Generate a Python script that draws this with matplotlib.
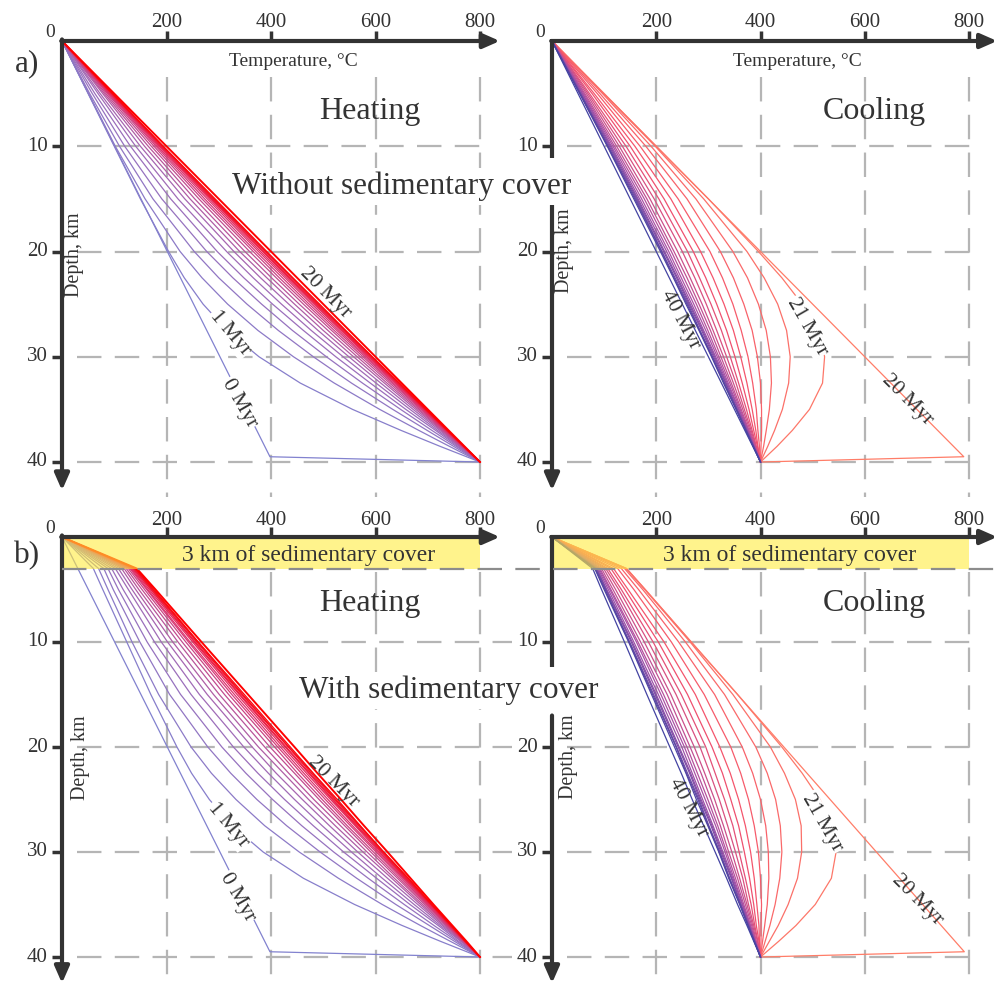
import matplotlib
matplotlib.use('Agg')
import matplotlib.pyplot as plt
from matplotlib.colors import LinearSegmentedColormap
from matplotlib.patches import Rectangle

# Geotherms: temperature (deg C) at fixed depths (km), one row per Myr
depth_a = [0, 5, 10, 15, 20, 22.5, 25, 27.5, 30, 32.5, 35, 37, 38.5, 40]
depth_b = [0, 3, 5, 10, 15, 20, 22.5, 25, 27.5, 30, 32.5, 35, 37, 38.5, 40]
depth_start = [0, 39.5, 40]
depth_start_b = [0, 3, 39.5, 40]

heat_a_0 = [0, 398, 800]
heat_a = [
    [0, 50, 100, 150, 204, 234, 270, 316, 377, 456, 556, 649, 723, 800],
    [0, 51, 102, 159, 226, 268, 317, 375, 443, 521, 608, 683, 741, 800],
    [0, 53, 110, 174, 253, 300, 354, 414, 481, 554, 633, 699, 749, 800],
    [0, 58, 120, 191, 277, 327, 382, 441, 506, 575, 648, 708, 754, 800],
    [0, 63, 131, 208, 297, 348, 403, 462, 524, 590, 658, 715, 757, 800],
    [0, 69, 141, 222, 315, 366, 420, 477, 538, 601, 666, 719, 760, 800],
    [0, 73, 150, 235, 329, 380, 434, 490, 549, 610, 672, 723, 761, 800],
    [0, 78, 158, 245, 340, 392, 445, 500, 558, 617, 677, 726, 763, 800],
    [0, 81, 165, 254, 350, 401, 454, 509, 565, 622, 681, 728, 764, 800],
    [0, 84, 171, 262, 359, 410, 462, 516, 571, 627, 684, 730, 765, 800],
    [0, 87, 176, 268, 366, 416, 468, 521, 576, 631, 687, 732, 766, 800],
    [0, 89, 180, 273, 371, 422, 473, 526, 580, 634, 689, 733, 767, 800],
    [0, 91, 183, 278, 376, 427, 478, 530, 583, 637, 691, 734, 767, 800],
    [0, 92, 186, 282, 380, 431, 482, 534, 586, 639, 692, 735, 768, 800],
    [0, 94, 188, 285, 384, 434, 485, 536, 588, 641, 694, 736, 768, 800],
    [0, 95, 190, 287, 386, 436, 487, 538, 590, 642, 695, 737, 768, 800],
    [0, 96, 192, 289, 389, 439, 489, 541, 592, 644, 696, 737, 769, 800],
    [0, 96, 193, 291, 390, 441, 491, 542, 593, 645, 696, 738, 769, 800],
    [0, 97, 194, 293, 392, 442, 493, 543, 594, 646, 697, 738, 769, 800],
    [0, 100, 200, 300, 400, 450, 500, 550, 600, 650, 700, 740, 770, 800],
]

cool_a_20 = [0, 790, 400]
cool_a = [
    [0, 100, 200, 300, 396, 441, 480, 509, 523, 519, 494, 461, 432, 400],
    [0, 99, 198, 291, 374, 407, 433, 450, 457, 454, 442, 427, 414, 400],
    [0, 97, 190, 276, 347, 375, 396, 411, 419, 421, 417, 411, 406, 400],
    [0, 92, 180, 259, 323, 348, 368, 384, 394, 400, 402, 402, 401, 400],
    [0, 87, 169, 242, 303, 327, 347, 363, 376, 385, 392, 395, 398, 400],
    [0, 81, 159, 228, 285, 309, 330, 348, 362, 374, 384, 391, 395, 400],
    [0, 77, 150, 215, 271, 295, 316, 335, 351, 365, 378, 387, 394, 400],
    [0, 72, 142, 205, 260, 283, 305, 325, 342, 358, 373, 384, 392, 400],
    [0, 69, 135, 196, 250, 274, 296, 316, 335, 353, 369, 382, 391, 400],
    [0, 66, 129, 188, 241, 265, 288, 309, 329, 348, 366, 380, 390, 400],
    [0, 63, 124, 182, 234, 259, 282, 304, 324, 344, 363, 378, 389, 400],
    [0, 61, 120, 177, 229, 253, 277, 299, 320, 341, 361, 377, 388, 400],
    [0, 59, 117, 172, 224, 248, 272, 295, 317, 338, 359, 376, 388, 400],
    [0, 58, 114, 168, 220, 244, 268, 291, 314, 336, 358, 375, 387, 400],
    [0, 56, 112, 165, 216, 241, 265, 289, 312, 334, 356, 374, 387, 400],
    [0, 55, 110, 163, 214, 239, 263, 287, 310, 333, 355, 373, 387, 400],
    [0, 54, 108, 161, 211, 236, 261, 284, 308, 331, 354, 373, 386, 400],
    [0, 54, 107, 159, 210, 234, 259, 283, 307, 330, 354, 372, 386, 400],
    [0, 53, 106, 157, 208, 233, 257, 282, 306, 329, 353, 372, 386, 400],
    [0, 50, 100, 150, 200, 225, 250, 275, 300, 325, 350, 370, 385, 400],
]

heat_b_0 = [0, 398, 800]
heat_b = [
    [0, 60, 78, 124, 170, 220, 248, 282, 326, 385, 462, 560, 651, 724, 800],
    [0, 70, 88, 134, 185, 247, 286, 333, 388, 454, 529, 613, 686, 743, 800],
    [0, 80, 98, 149, 206, 279, 323, 373, 430, 494, 564, 639, 703, 751, 800],
    [0, 88, 108, 163, 227, 306, 352, 403, 459, 520, 586, 655, 712, 756, 800],
    [0, 95, 117, 177, 247, 328, 375, 426, 481, 539, 602, 666, 720, 759, 800],
    [0, 102, 127, 190, 263, 348, 395, 445, 498, 554, 613, 674, 724, 763, 800],
    [0, 108, 134, 202, 278, 364, 410, 460, 512, 566, 623, 681, 728, 764, 800],
    [0, 114, 141, 212, 290, 376, 424, 472, 523, 576, 631, 686, 731, 766, 800],
    [0, 119, 147, 222, 301, 388, 434, 482, 533, 584, 636, 690, 734, 767, 800],
    [0, 123, 153, 230, 311, 398, 445, 492, 541, 591, 642, 694, 736, 768, 800],
    [0, 127, 158, 237, 319, 407, 451, 498, 546, 596, 646, 697, 738, 769, 800],
    [0, 130, 162, 242, 325, 413, 458, 504, 552, 601, 650, 699, 739, 770, 800],
    [0, 132, 164, 245, 330, 418, 463, 509, 556, 604, 653, 701, 740, 770, 800],
    [0, 134, 167, 250, 335, 423, 468, 514, 561, 607, 655, 703, 741, 771, 800],
    [0, 136, 170, 253, 339, 427, 472, 517, 563, 610, 657, 705, 742, 771, 800],
    [0, 137, 171, 255, 341, 429, 474, 519, 565, 612, 658, 706, 743, 771, 800],
    [0, 139, 173, 258, 344, 433, 477, 522, 568, 614, 660, 707, 744, 772, 800],
    [0, 140, 174, 260, 346, 434, 480, 524, 570, 615, 662, 707, 745, 772, 800],
    [0, 141, 176, 261, 349, 437, 481, 527, 571, 616, 663, 708, 745, 772, 800],
    [0, 143, 179, 267, 356, 445, 489, 534, 578, 623, 667, 711, 747, 774, 800],
]

cool_b_20 = [0, 143, 791, 400]
cool_b = [
    [0, 143, 179, 267, 356, 441, 480, 514, 537, 545, 536, 505, 468, 435, 400],
    [0, 142, 178, 265, 347, 419, 446, 467, 478, 479, 471, 453, 434, 417, 400],
    [0, 139, 174, 256, 331, 391, 413, 429, 438, 441, 437, 428, 418, 409, 400],
    [0, 133, 166, 243, 312, 365, 385, 400, 410, 415, 416, 413, 408, 404, 400],
    [0, 126, 157, 229, 292, 343, 362, 377, 388, 396, 400, 402, 401, 401, 400],
    [0, 118, 146, 215, 275, 322, 342, 358, 371, 381, 388, 393, 397, 398, 400],
    [0, 113, 140, 204, 260, 307, 327, 343, 358, 369, 379, 387, 392, 397, 400],
    [0, 107, 133, 194, 248, 295, 313, 331, 347, 359, 371, 382, 389, 395, 400],
    [0, 103, 128, 185, 238, 284, 303, 321, 337, 352, 366, 377, 387, 394, 400],
    [0, 99, 122, 177, 228, 273, 293, 312, 329, 345, 360, 374, 385, 392, 400],
    [0, 95, 117, 170, 221, 265, 286, 305, 323, 339, 356, 371, 383, 391, 400],
    [0, 92, 113, 165, 214, 259, 279, 299, 318, 335, 352, 368, 381, 390, 400],
    [0, 90, 111, 162, 209, 254, 274, 294, 314, 332, 349, 366, 380, 390, 400],
    [0, 88, 108, 157, 204, 249, 269, 289, 309, 328, 347, 365, 379, 389, 400],
    [0, 86, 105, 154, 200, 244, 266, 286, 307, 326, 345, 363, 378, 389, 400],
    [0, 85, 104, 152, 198, 242, 264, 284, 305, 324, 344, 362, 377, 389, 400],
    [0, 83, 102, 149, 195, 239, 260, 282, 301, 322, 341, 361, 377, 388, 400],
    [0, 83, 102, 148, 193, 238, 258, 280, 300, 321, 340, 361, 376, 388, 400],
    [0, 82, 100, 147, 191, 235, 257, 277, 299, 320, 339, 360, 376, 388, 400],
    [0, 78, 95, 139, 182, 226, 248, 269, 291, 313, 335, 356, 374, 387, 400],
]

temp_ticks = [200, 400, 600, 800]
depth_ticks = [10, 20, 30, 40]

W, H = 1002, 985
INK = '#333333'
GRID = '#b5b5b5'
plt.rcParams['font.family'] = ['Liberation Serif', 'DejaVu Serif']

heat_cmap = LinearSegmentedColormap.from_list('heat', ['#8282cf', '#a368b4', '#e0306a', '#ff0000'])
cool_cmap = LinearSegmentedColormap.from_list('cool', ['#ff7d68', '#f3506c', '#a650a8', '#4343a2'])

fig = plt.figure(figsize=(W / 100, H / 100), dpi=100)
fig.patch.set_facecolor('white')


def panel(x0, y0, x1, y1):
    ax = fig.add_axes([x0 / W, 1 - y1 / H, (x1 - x0) / W, (y1 - y0) / H])
    ax.set_xlim(0, 800)
    ax.set_ylim(40, 0)
    ax.axis('off')
    return ax


def ftext(px, py, s, **kw):
    kw.setdefault('color', INK)
    kw.setdefault('ha', 'center')
    kw.setdefault('va', 'center')
    return fig.text(px / W, 1 - py / H, s, **kw)


def frame(ax, vgrid, hgrid_end, x_tip, y_tip, gap=None, tick_z=-1.8):
    # dashed grid
    for t in temp_ticks:
        ax.plot([t, t], vgrid, color=GRID, lw=1.6, dashes=(11, 6), clip_on=False, zorder=1)
    for z in depth_ticks:
        ax.plot([29, hgrid_end], [z, z], color=GRID, lw=1.6, dashes=(11, 6), clip_on=False, zorder=1)
    # arrowed axes
    arrow = dict(arrowstyle='-|>,head_length=0.5,head_width=0.22', lw=3, color=INK,
                 mutation_scale=20, shrinkA=0, shrinkB=0)
    ax.annotate('', xy=(x_tip, 0), xytext=(-1.5, 0), arrowprops=arrow, annotation_clip=False, zorder=6)
    if gap is None:
        ax.annotate('', xy=(0, y_tip), xytext=(0, -0.15), arrowprops=arrow, annotation_clip=False, zorder=6)
    else:
        ax.plot([0, 0], [-0.15, gap[0]], color=INK, lw=3, solid_capstyle='butt', clip_on=False, zorder=6)
        ax.annotate('', xy=(0, y_tip), xytext=(0, gap[1]), arrowprops=arrow, annotation_clip=False, zorder=6)
    for t in temp_ticks:
        ax.plot([t, t], [0, -0.95], color=INK, lw=2.5, solid_capstyle='butt', clip_on=False, zorder=6)
        ax.text(t, tick_z, str(t), ha='center', va='center', fontsize=15, color=INK, clip_on=False)
    for z in depth_ticks:
        ax.plot([0, -19], [z, z], color=INK, lw=2.5, solid_capstyle='butt', clip_on=False, zorder=6)
        ax.text(-27, z, str(z), ha='right', va='center', fontsize=15, color=INK, clip_on=False)
    ax.text(-23, -0.8, '0', ha='center', va='center', fontsize=14, color=INK, clip_on=False)


def curves(ax, depth, rows, first_depth, first_row, cmap, reverse=False):
    n = len(rows)
    ax.plot(first_row, first_depth, color=cmap(0.0), lw=0.9, zorder=2, clip_on=False)
    for i, row in enumerate(rows):
        lw = 1.4 if (i == n - 1 and not reverse) else 0.9
        ax.plot(row, depth, color=cmap((i + 1) / n), lw=lw, zorder=2, clip_on=False)


ax_tl = panel(62, 41, 480, 462)
ax_tr = panel(552, 41, 969, 462)
ax_bl = panel(62, 537, 480, 957)
ax_br = panel(552, 537, 969, 957)

curves(ax_tl, depth_a, heat_a, depth_start, heat_a_0, heat_cmap)
curves(ax_tr, depth_a, cool_a, depth_start, cool_a_20, cool_cmap, reverse=True)
curves(ax_bl, depth_b, heat_b, depth_start, heat_b_0, heat_cmap)
curves(ax_br, depth_b, cool_b, depth_start_b, cool_b_20, cool_cmap, reverse=True)

frame(ax_tl, [3.4, 43.3], 804, 838, 42.7)
frame(ax_tr, [3.4, 43.3], 812, 854, 42.7, gap=(11.1, 15.6))
frame(ax_bl, [3.3, 42.7], 862, 838, 42.5, tick_z=-1.6)
frame(ax_br, [3.3, 42.7], 812, 854, 42.5, gap=(12.4, 17.0), tick_z=-1.6)

# sedimentary layer, 0-3 km
for ax in (ax_bl, ax_br):
    ax.add_patch(Rectangle((0, 0), 800, 3, facecolor='#ffeb3f', alpha=0.6, lw=0, zorder=3))
fig.add_artist(plt.Line2D([62 / W, 1000 / W], [1 - 569 / H, 1 - 569 / H], color='#8c8c8c',
                          lw=1.6, dashes=(11, 6), zorder=4))
ftext(309, 556, '3 km of sedimentary cover', fontsize=17, zorder=7)
ftext(790, 556, '3 km of sedimentary cover', fontsize=17, zorder=7)

# axis titles
for px, py in [(293, 62), (797, 62)]:
    ftext(px, py, 'Temperature, \u00b0C', fontsize=14)
for px, py in [(75, 255), (565, 251), (80, 758), (568, 757)]:
    ftext(px, py, 'Depth, km', fontsize=14.5, rotation=90)

# panel headings
ftext(370, 112, 'Heating', fontsize=23)
ftext(874, 112, 'Cooling', fontsize=23)
ftext(370, 604, 'Heating', fontsize=23)
ftext(874, 604, 'Cooling', fontsize=23)
box = dict(boxstyle='square,pad=0.12', fc='white', ec='none')
ftext(402, 186, 'Without sedimentary cover', fontsize=22.5, bbox=box, zorder=8)
ftext(449, 690, 'With sedimentary cover', fontsize=22.5, bbox=box, zorder=8)
ftext(27, 64, 'a)', fontsize=22.5)
ftext(27, 556, 'b)', fontsize=22.5)

# time labels along the geotherms
lbox = dict(boxstyle='square,pad=0.05', fc='white', ec='none')
labels = [
    (325, 293, '20 Myr', -45, None), (230, 333, '1 Myr', -50, lbox), (240, 403, '0 Myr', -60, lbox),
    (680, 320, '40 Myr', -62, None), (807, 327, '21 Myr', -60, lbox), (907, 400, '20 Myr', -45, None),
    (333, 782, '20 Myr', -45, None), (228, 825, '1 Myr', -50, lbox), (238, 897, '0 Myr', -60, lbox),
    (688, 808, '40 Myr', -62, None), (822, 823, '21 Myr', -60, lbox), (917, 900, '20 Myr', -45, None),
]
for px, py, s, rot, bb in labels:
    ftext(px, py, s, fontsize=15.5, rotation=rot, rotation_mode='anchor', bbox=bb, zorder=7)

fig.savefig('out.png', dpi=100, facecolor='white')
plt.close(fig)
